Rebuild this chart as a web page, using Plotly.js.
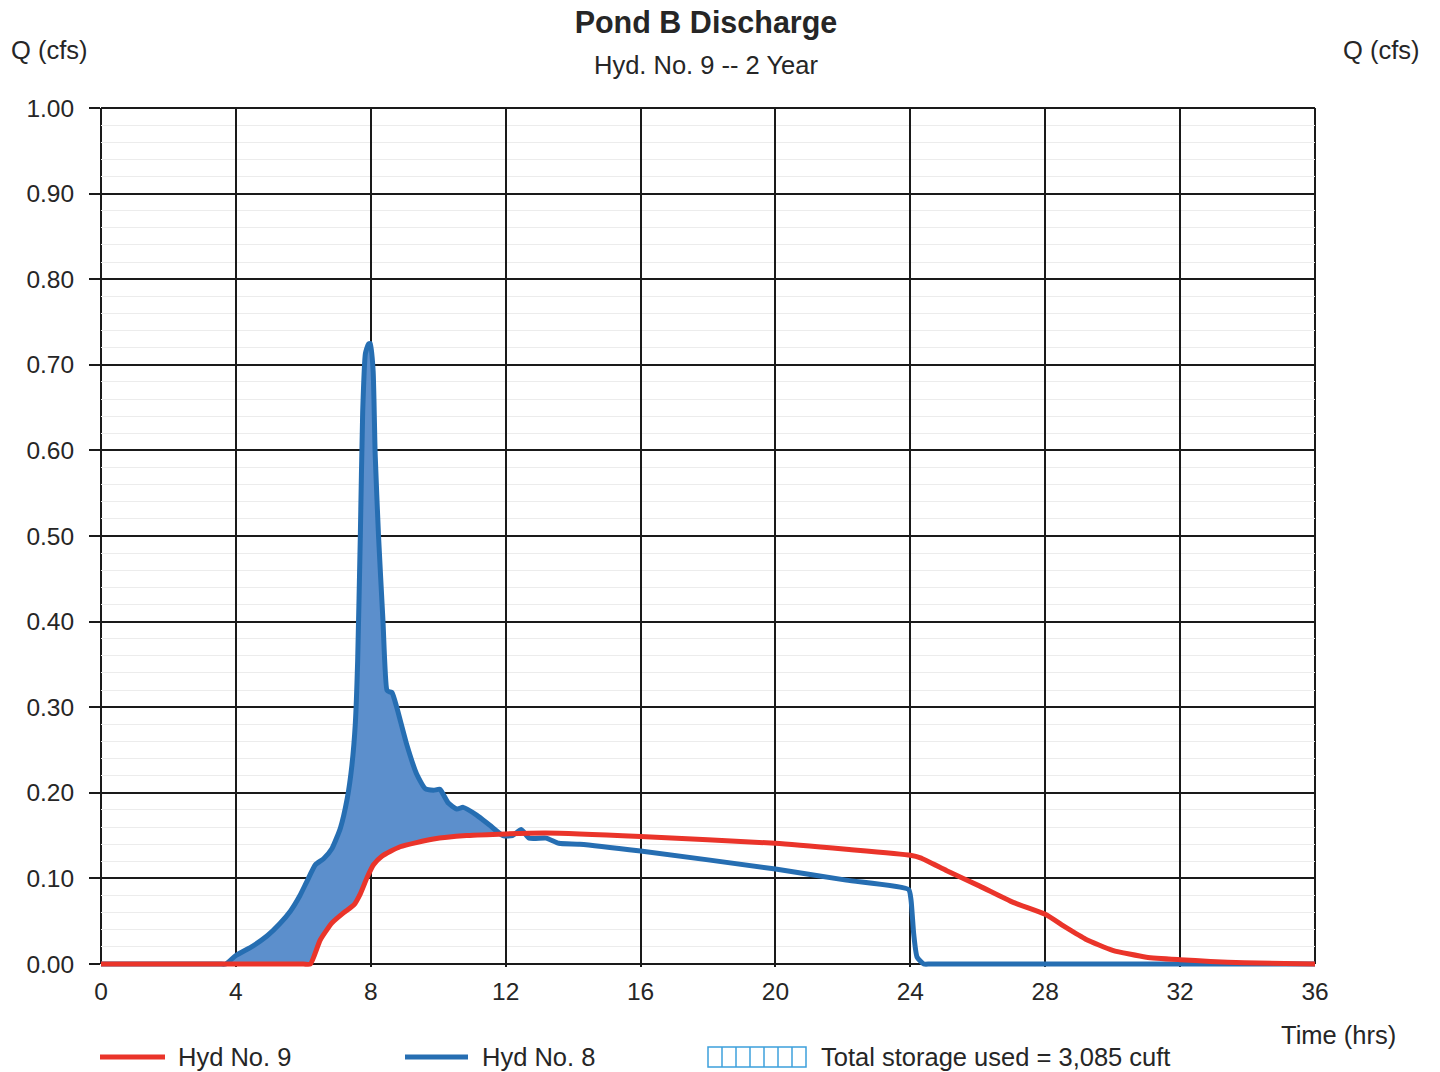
<!DOCTYPE html>
<html><head><meta charset="utf-8">
<script src="https://cdn.plot.ly/plotly-3.0.1.min.js"></script>
<style>html,body{margin:0;padding:0;background:#fff}#chart{width:1440px;height:1072px}</style>
</head><body><div id="chart"></div>
<script>
// ---- data ----
const hyd8Time = [0, 3.5, 3.7, 4.0, 4.5, 4.93, 5.3, 5.62, 5.9, 6.1, 6.36, 6.6, 6.85, 7.1, 7.3, 7.44, 7.54, 7.61, 7.69, 7.76, 7.84, 7.93, 7.99, 8.07, 8.13, 8.23, 8.36, 8.48, 8.55, 8.63, 8.77, 9.07, 9.36, 9.61, 9.86, 10.05, 10.3, 10.55, 10.74, 11.14, 11.53, 11.92, 12.2, 12.46, 12.7, 13.2, 13.58, 14.2, 16, 20, 22.1, 23.95, 24.02, 24.1, 24.2, 24.4, 24.6, 36];
const hyd8Flow = [0, 0, 0, 0.01, 0.021, 0.033, 0.047, 0.062, 0.08, 0.096, 0.116, 0.123, 0.135, 0.159, 0.193, 0.232, 0.28, 0.353, 0.5, 0.645, 0.713, 0.724, 0.725, 0.693, 0.596, 0.5, 0.402, 0.32, 0.318, 0.317, 0.3, 0.256, 0.222, 0.205, 0.203, 0.204, 0.188, 0.181, 0.183, 0.174, 0.162, 0.15, 0.15, 0.157, 0.147, 0.147, 0.141, 0.14, 0.132, 0.111, 0.098, 0.087, 0.075, 0.035, 0.008, 0, 0, 0];
const hyd9Time = [0, 6.0, 6.21, 6.5, 6.85, 7.2, 7.5, 7.69, 7.89, 8.08, 8.33, 8.87, 9.86, 10.84, 12, 13.2, 16, 20, 22.1, 24, 24.3, 25.08, 26.06, 27.05, 28, 28.6, 29.2, 30, 31, 32, 32.9, 33.9, 36];
const hyd9Flow = [0, 0, 0, 0.028, 0.048, 0.06, 0.069, 0.082, 0.101, 0.116, 0.126, 0.137, 0.146, 0.15, 0.152, 0.153, 0.149, 0.141, 0.134, 0.127, 0.124, 0.109, 0.091, 0.072, 0.058, 0.043, 0.029, 0.016, 0.008, 0.005, 0.003, 0.0015, 0];
const storageWindow = [3.7, 12];
const xTickVals = [0, 4, 8, 12, 16, 20, 24, 28, 32, 36];
const yTickVals = [0, 0.1, 0.2, 0.3, 0.4, 0.5, 0.6, 0.7, 0.8, 0.9, 1.0];
const seriesNames = ['Hyd No. 9', 'Hyd No. 8'];
const storageLabel = 'Total storage used = 3,085 cuft';
const titleText = 'Pond B Discharge';
const subtitleText = 'Hyd. No. 9 -- 2 Year';
const yLabel = 'Q (cfs)';
const xLabel = 'Time (hrs)';

// ---- styles ----
const RED = 'rgb(234,52,42)';
const BLUE = 'rgb(38,110,178)';
const FILL = 'rgb(92,143,204)';
const TXT = '#262626';
const GRID = '#1a1a1a';
const FONT = 'Liberation Sans, Arial, sans-serif';
const FS = 25.5;

// storage polygon between inflow (hyd 8) and outflow (hyd 9)
const inWin = (t) => t >= storageWindow[0] && t <= storageWindow[1];
const fx = [], fy = [];
hyd8Time.forEach((t, i) => { if (inWin(t)) { fx.push(t); fy.push(hyd8Flow[i]); } });
for (let i = hyd9Time.length - 1; i >= 0; i--) { if (inWin(hyd9Time[i])) { fx.push(hyd9Time[i]); fy.push(hyd9Flow[i]); } }

const traces = [
  {x: fx, y: fy, mode: 'lines', fill: 'toself', fillcolor: FILL, line: {width: 0, shape: 'spline', smoothing: 0.5}, hoverinfo: 'skip', showlegend: false},
  {x: hyd8Time, y: hyd8Flow, mode: 'lines', name: seriesNames[1], line: {color: BLUE, width: 5, shape: 'spline', smoothing: 0.5}, showlegend: false},
  {x: hyd9Time, y: hyd9Flow, mode: 'lines', name: seriesNames[0], line: {color: RED, width: 5, shape: 'spline', smoothing: 0.5}, showlegend: false}
];

// plot geometry (pixel frame of the reference)
const L = 101, R = 125, T = 108, B = 108, W = 1440, H = 1072;
const pad = 0.0035;                // small headroom below zero so lines on the baseline are not clipped
const ph = H - T - B, pw = W - L - R;
const padPx = Math.round(pad * ph);
const px = (x) => (x - L) / pw;
const yPaper = (y) => ((H - B - y) + padPx) / (ph + padPx);

const shapes = [];
const annotations = [];
// frame: top, left and right borders (Plotly omits grid lines at the range edges)
const zeroP = yPaper(H - B), oneP = yPaper(T);
shapes.push({type: 'line', xref: 'paper', yref: 'paper', x0: 0, x1: 1, y0: oneP, y1: oneP, line: {color: GRID, width: 2}});
shapes.push({type: 'line', xref: 'paper', yref: 'paper', x0: 0, x1: 0, y0: zeroP, y1: oneP, line: {color: GRID, width: 2}, layer: 'below'});
shapes.push({type: 'line', xref: 'paper', yref: 'paper', x0: 1, x1: 1, y0: zeroP, y1: oneP, line: {color: GRID, width: 2}, layer: 'below'});
// manual legend
const legY = 1057;
shapes.push({type: 'line', xref: 'paper', yref: 'paper', x0: px(100), x1: px(165), y0: yPaper(legY), y1: yPaper(legY), line: {color: RED, width: 5}});
annotations.push({xref: 'paper', yref: 'paper', x: px(176), y: yPaper(legY), xanchor: 'left', yanchor: 'middle', text: seriesNames[0], showarrow: false, font: {family: FONT, size: FS, color: TXT}});
shapes.push({type: 'line', xref: 'paper', yref: 'paper', x0: px(405), x1: px(468), y0: yPaper(legY), y1: yPaper(legY), line: {color: BLUE, width: 5}});
annotations.push({xref: 'paper', yref: 'paper', x: px(480), y: yPaper(legY), xanchor: 'left', yanchor: 'middle', text: seriesNames[1], showarrow: false, font: {family: FONT, size: FS, color: TXT}});
const bx0 = 708, bx1 = 806, by0 = 1047, by1 = 1067, cells = 7;
shapes.push({type: 'rect', xref: 'paper', yref: 'paper', x0: px(bx0), x1: px(bx1), y0: yPaper(by1), y1: yPaper(by0), line: {color: 'rgb(60,160,220)', width: 1.5}, fillcolor: 'rgba(0,0,0,0)'});
for (let k = 1; k < cells; k++) {
  const xx = bx0 + k * (bx1 - bx0) / cells;
  shapes.push({type: 'line', xref: 'paper', yref: 'paper', x0: px(xx), x1: px(xx), y0: yPaper(by1), y1: yPaper(by0), line: {color: 'rgb(60,160,220)', width: 1.5}});
}
annotations.push({xref: 'paper', yref: 'paper', x: px(819), y: yPaper(legY), xanchor: 'left', yanchor: 'middle', text: storageLabel, showarrow: false, font: {family: FONT, size: FS, color: TXT}});
// axis captions
annotations.push({xref: 'paper', yref: 'paper', x: px(1398), y: yPaper(1035), xanchor: 'right', yanchor: 'middle', text: xLabel, showarrow: false, font: {family: FONT, size: FS, color: TXT}});
annotations.push({xref: 'paper', yref: 'paper', x: px(50), y: yPaper(50), xanchor: 'center', yanchor: 'middle', text: yLabel, showarrow: false, font: {family: FONT, size: FS, color: TXT}});
annotations.push({xref: 'paper', yref: 'paper', x: px(1381), y: yPaper(50), xanchor: 'center', yanchor: 'middle', text: yLabel, showarrow: false, font: {family: FONT, size: FS, color: TXT}});
annotations.push({xref: 'paper', yref: 'paper', x: px(706), y: yPaper(65), xanchor: 'center', yanchor: 'middle', text: subtitleText, showarrow: false, font: {family: FONT, size: 25.5, color: TXT}});

const layout = {
  width: W, height: H,
  margin: {l: L, r: R, t: T, b: B - padPx},
  paper_bgcolor: '#fff', plot_bgcolor: '#fff',
  font: {family: FONT, size: 24, color: TXT},
  title: {text: '<b>' + titleText + '</b>', x: px(706), xref: 'paper', xanchor: 'center', y: 1 - 22 / H, yanchor: 'middle', font: {family: FONT, size: 30.5, color: TXT}},
  showlegend: false,
  xaxis: {
    range: [0, 36], tickvals: xTickVals, ticktext: xTickVals.map(String),
    showgrid: true, gridcolor: GRID, gridwidth: 2,
    showline: false, zeroline: false, ticks: '', ticklabelstandoff: 7,
    tickfont: {family: FONT, size: 24.5, color: TXT}, fixedrange: true
  },
  yaxis: {
    range: [-pad, 1], tickvals: yTickVals, tickformat: '.2f',
    showgrid: true, gridcolor: GRID, gridwidth: 2,
    minor: {dtick: 0.02, tick0: 0, showgrid: true, gridcolor: '#ececec', gridwidth: 1, ticks: ''},
    showline: false, zeroline: false, ticks: 'outside', ticklen: 11, tickwidth: 2, tickcolor: GRID, ticklabelstandoff: 10,
    tickfont: {family: FONT, size: 24.5, color: TXT}, fixedrange: true
  },
  yaxis2: {
    overlaying: 'y', side: 'right', anchor: 'x',
    range: [-pad, 1], tickvals: yTickVals, tickformat: '.2f',
    showgrid: false, zeroline: false, showline: false,
    ticks: 'outside', ticklen: 11, tickwidth: 2, tickcolor: GRID, ticklabelstandoff: 13,
    tickfont: {family: FONT, size: 24.5, color: TXT}, fixedrange: true
  },
  shapes: shapes,
  annotations: annotations
};

Plotly.newPlot('chart', traces, layout, {displayModeBar: false, staticPlot: true});
</script>
</body></html>
